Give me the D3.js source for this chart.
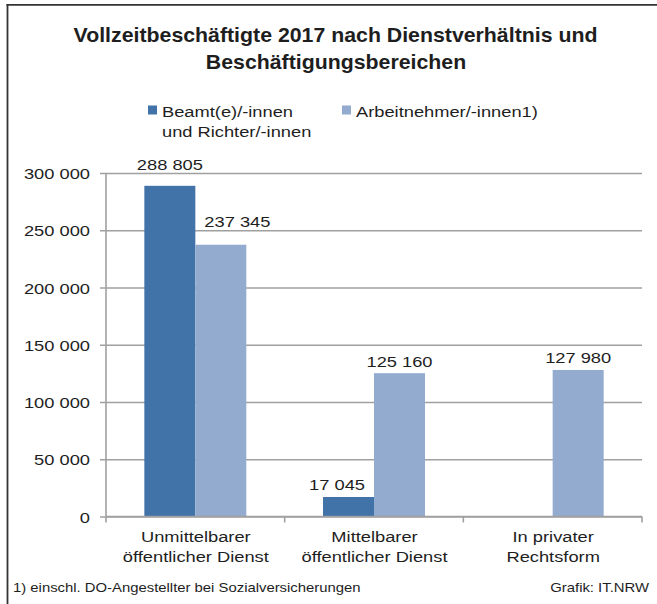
<!DOCTYPE html>
<html>
<head>
<meta charset="utf-8">
<script src="https://cdn.jsdelivr.net/npm/d3@7"></script>
<style>
  html, body { margin: 0; padding: 0; background: #fff; }
  svg { display: block; }
  text { font-family: "Liberation Sans", Arial, sans-serif; fill: #1e1e1e; }
</style>
</head>
<body>
<svg id="chart" width="657" height="604"></svg>
<script>
// ---- data ----
const titleLines = ["Vollzeitbeschäftigte 2017 nach Dienstverhältnis und", "Beschäftigungsbereichen"];
const categories = ["Unmittelbarer öffentlicher Dienst", "Mittelbarer öffentlicher Dienst", "In privater Rechtsform"];
const categoryLines = [["Unmittelbarer", "öffentlicher Dienst"], ["Mittelbarer", "öffentlicher Dienst"], ["In privater", "Rechtsform"]];
const seriesKeys = ["beamte", "arbeitnehmer"];
const seriesLegend = [["Beamt(e)/-innen", "und Richter/-innen"], ["Arbeitnehmer/-innen1)"]];
const beamte = [288805, 17045, null];
const arbeitnehmer = [237345, 125160, 127980];
const yTicks = [0, 50000, 100000, 150000, 200000, 250000, 300000];
const footnote = "1) einschl. DO-Angestellter bei Sozialversicherungen";
const source = "Grafik: IT.NRW";

// ---- styles ----
const colors = { beamte: "#4273a8", arbeitnehmer: "#94abd0" };
const FS = 15.5, SX = 1.18;

const svg = d3.select("#chart");
const plotLeft = 106, plotRight = 642, plotTop = 173, plotBottom = 516.5;

const x0 = d3.scaleBand().domain(categories).range([plotLeft, plotRight]).paddingInner(0).paddingOuter(0);
const x1 = d3.scaleBand().domain(seriesKeys).range([0, x0.bandwidth()]).paddingInner(0).paddingOuter(0.752);
const y = d3.scaleLinear().domain([0, 300000]).range([plotBottom, plotTop]);

const loc = d3.formatLocale({ decimal: ",", thousands: " ", grouping: [3], currency: ["", ""] });
const fmt = loc.format(",d");

function stretchedText(g, x, yy, txt, opts = {}) {
  const fs = opts.fs || FS, sx = opts.sx || SX;
  return g.append("text")
    .attr("transform", `translate(${x},${yy}) scale(${sx},1)`)
    .attr("text-anchor", opts.anchor || "start")
    .style("font-size", fs + "px")
    .style("font-weight", opts.bold ? "bold" : "normal")
    .text(txt);
}

// border (top and left)
svg.append("line").attr("x1", 6.5).attr("x2", 657).attr("y1", 4.8).attr("y2", 4.8).attr("stroke", "#333").attr("stroke-width", 1.8);
svg.append("line").attr("x1", 7.5).attr("x2", 7.5).attr("y1", 4).attr("y2", 604).attr("stroke", "#333").attr("stroke-width", 1.8);

// title
const tg = svg.append("g");
stretchedText(tg, 335.5, 42, titleLines[0], { fs: 20, sx: 1.065, bold: true, anchor: "middle" });
stretchedText(tg, 336, 68.5, titleLines[1], { fs: 20, sx: 1.065, bold: true, anchor: "middle" });

// legend
const lg = svg.append("g");
const legendX = [148, 342];
seriesKeys.forEach((k, i) => {
  lg.append("rect").attr("x", legendX[i]).attr("y", 105.5).attr("width", 9).attr("height", 9).attr("fill", colors[k]);
  seriesLegend[i].forEach((ln, j) => {
    stretchedText(lg, legendX[i] + 14, 117 + j * 19.5, ln);
  });
});

// y axis with gridlines
const yAxis = d3.axisLeft(y).tickValues(yTicks).tickFormat(fmt).tickSize(plotRight - plotLeft + 6).tickPadding(10);
const ya = svg.append("g").attr("transform", `translate(${plotRight},0)`).call(yAxis);
ya.select(".domain").remove();
ya.selectAll(".tick line").attr("stroke", "#a0a0a0").attr("stroke-width", 1.6);
ya.selectAll(".tick text").each(function() {
  const t = d3.select(this);
  const xx = +t.attr("x");
  t.attr("x", 0).attr("dy", null)
    .attr("transform", `translate(${xx},5.5) scale(${SX},1)`)
    .style("font-size", FS + "px")
    .attr("fill", "#1e1e1e");
});
ya.attr("font-family", null).attr("font-size", null);

// vertical axis line
svg.append("line").attr("x1", plotLeft).attr("x2", plotLeft).attr("y1", plotTop).attr("y2", plotBottom)
  .attr("stroke", "#a0a0a0").attr("stroke-width", 1.6);

// bars
const rows = categories.map((c, i) => ({ cat: c, idx: i, beamte: beamte[i], arbeitnehmer: arbeitnehmer[i] }));
const barsData = [];
rows.forEach(r => seriesKeys.forEach(k => {
  if (r[k] != null) barsData.push({ cat: r.cat, idx: r.idx, key: k, value: r[k],
    x: x0(r.cat) + x1(k), w: x1.bandwidth(), top: y(r[k]) });
}));
svg.append("g").selectAll("rect").data(barsData).join("rect")
  .attr("x", d => d.x).attr("y", d => d.top)
  .attr("width", d => d.w).attr("height", d => plotBottom - d.top)
  .attr("fill", d => colors[d.key]);

// x axis line and boundary ticks
svg.append("line").attr("x1", plotLeft).attr("x2", plotRight).attr("y1", plotBottom).attr("y2", plotBottom)
  .attr("stroke", "#a0a0a0").attr("stroke-width", 1.6);
const bounds = categories.map(c => x0(c)).concat([x0(categories[categories.length - 1]) + x0.bandwidth()]);
svg.append("g").selectAll("line").data(bounds).join("line")
  .attr("x1", d => d).attr("x2", d => d).attr("y1", plotBottom).attr("y2", plotBottom + 6)
  .attr("stroke", "#a0a0a0").attr("stroke-width", 1.6);

// category labels
const cg = svg.append("g");
categories.forEach((c, i) => {
  const cx = x0(c) + x0.bandwidth() / 2;
  categoryLines[i].forEach((ln, j) => stretchedText(cg, cx + 0.5, 542 + j * 20, ln, { anchor: "middle" }));
});

// data labels: above bars, avoiding gridlines and neighbouring bars
const dg = svg.append("g");
const capH = 11.5, gap = 9;
barsData.forEach(d => {
  let base = d.top - 6.5;
  yTicks.forEach(t => {
    const gy = y(t);
    if (t > 0 && gy >= base - capH - 1 && gy <= base + 2) base = gy - 3;
  });
  const cx = d.x + d.w / 2;
  const txt = stretchedText(dg, cx, base, fmt(d.value), { anchor: "middle" });
  const w = txt.node().getComputedTextLength() * SX;
  let l = cx - w / 2, r = cx + w / 2;
  barsData.filter(o => o !== d && o.idx === d.idx && o.top < base).forEach(o => {
    if (o.x >= d.x && r > o.x - gap) { const s = r - (o.x - gap); l -= s; r -= s; }
    if (o.x < d.x && l < o.x + o.w + gap) { const s = o.x + o.w + gap - l; l += s; r += s; }
  });
  txt.attr("transform", `translate(${(l + r) / 2},${base}) scale(${SX},1)`);
});

// footnote and source
stretchedText(svg, 13, 592, footnote, { fs: 12.6 });
stretchedText(svg, 649, 592, source, { fs: 12.6, anchor: "end" });
</script>
</body>
</html>
